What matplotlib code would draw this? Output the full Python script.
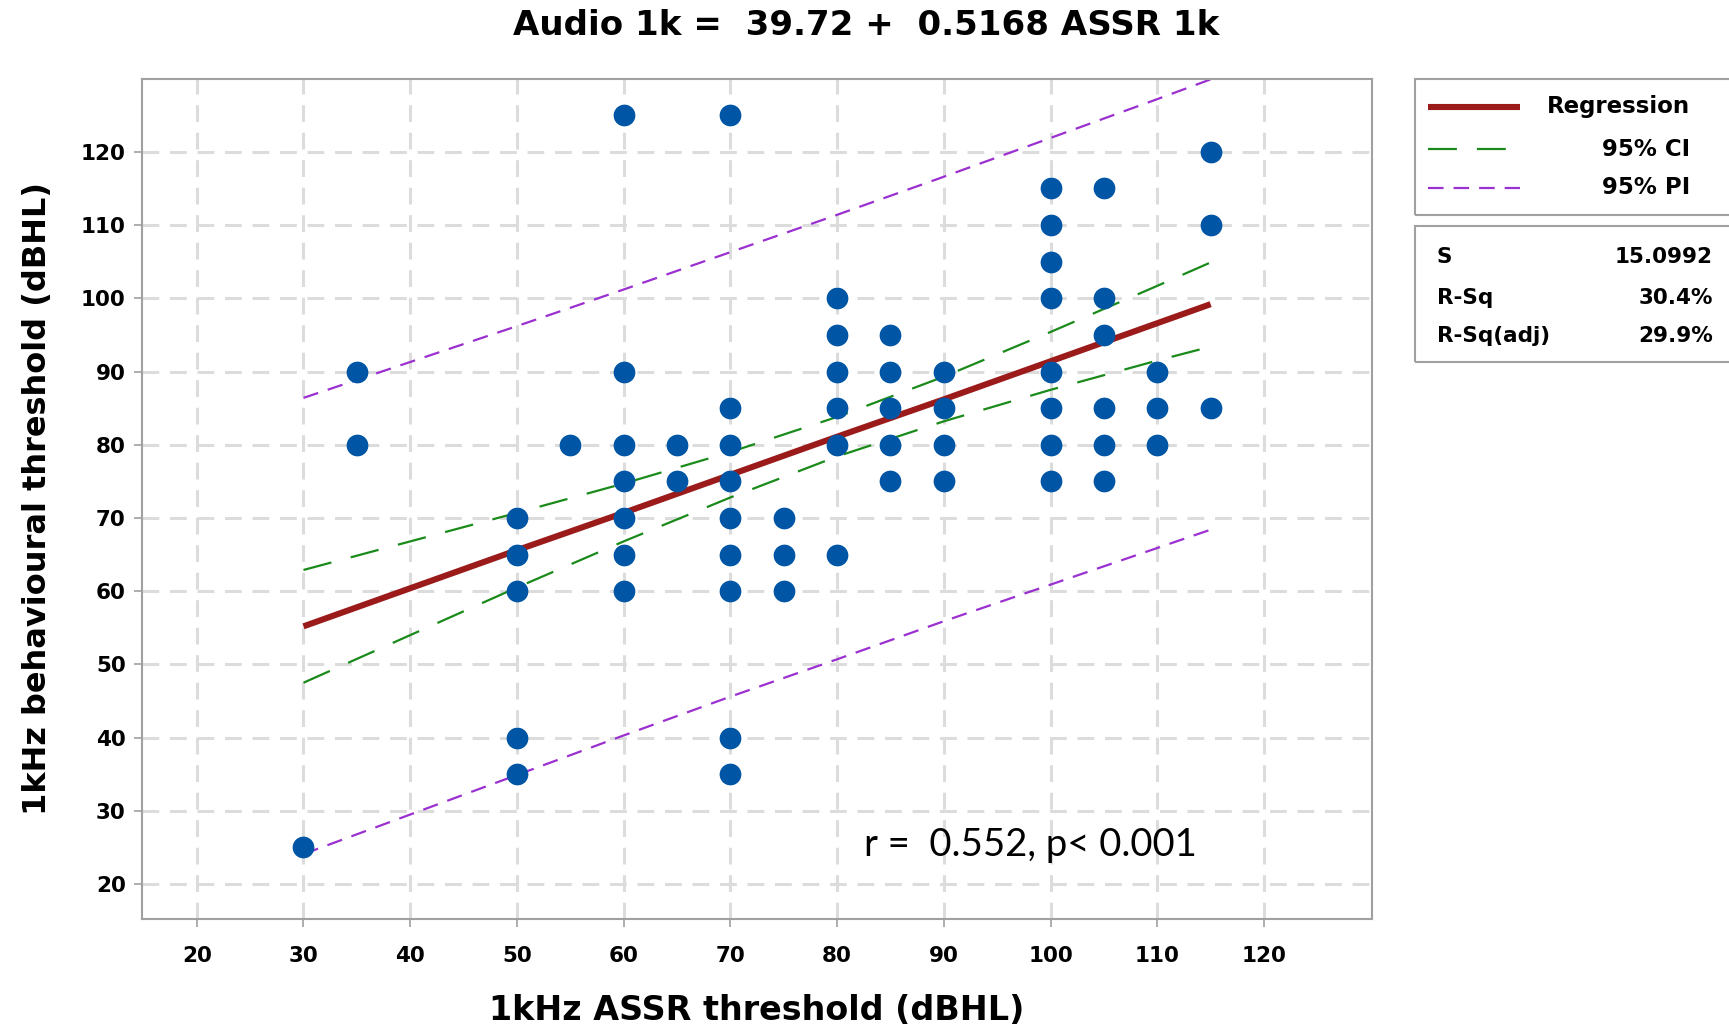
import matplotlib
matplotlib.use("Agg")
import matplotlib.pyplot as plt
from matplotlib.lines import Line2D
from matplotlib.patches import Rectangle

# ASSR threshold (x) and behavioural threshold (y)
assr = [30,
        35, 35,
        50, 50, 50, 50, 50,
        55,
        60, 60, 60, 60, 60, 60, 60,
        65, 65,
        70, 70, 70, 70, 70, 70, 70, 70, 70,
        75, 75, 75,
        80, 80, 80, 80, 80, 80,
        85, 85, 85, 85, 85,
        90, 90, 90, 90,
        100, 100, 100, 100, 100, 100, 100, 100,
        105, 105, 105, 105, 105, 105,
        110, 110, 110,
        115, 115, 115]
behav = [25,
         90, 80,
         70, 65, 60, 40, 35,
         80,
         125, 90, 80, 75, 70, 65, 60,
         80, 75,
         125, 85, 80, 75, 70, 65, 60, 40, 35,
         70, 65, 60,
         100, 95, 90, 85, 80, 65,
         95, 90, 85, 80, 75,
         90, 85, 80, 75,
         115, 110, 105, 100, 90, 85, 80, 75,
         115, 100, 95, 85, 80, 75,
         90, 85, 80,
         120, 110, 85]

# fitted line and interval bands, read at these x positions
fit_x = [30, 40, 50, 60, 70, 80, 90, 100, 110, 115]
fit_y = [55.2, 60.4, 65.6, 70.7, 75.9, 81.1, 86.2, 91.4, 96.6, 99.2]
ci_hi = [62.9, 66.8, 70.7, 74.7, 79.0, 83.8, 89.3, 95.4, 101.7, 104.9]
ci_lo = [47.5, 54.0, 60.5, 66.8, 72.8, 78.4, 83.2, 87.5, 91.5, 93.4]
pi_hi = [86.4, 91.3, 96.2, 101.2, 106.3, 111.4, 116.6, 121.9, 127.2, 129.9]
pi_lo = [24.1, 29.5, 34.9, 40.3, 45.6, 50.7, 55.9, 60.9, 65.9, 68.4]

stat_names = ["S", "R-Sq", "R-Sq(adj)"]
stat_vals = ["15.0992", "30.4%", "29.9%"]

RED = "#9b1b1b"
GREEN = "#1a8a1a"
PURPLE = "#9b30d0"
BLUE = "#0055a5"
GREY = "#a0a0a0"

fig = plt.figure(figsize=(17.29, 10.28), dpi=100)
ax = fig.add_axes([0.0823, 0.1065, 0.7111, 0.8163])

ax.set_xlim(14.9, 130.1)
ax.set_ylim(15.3, 129.9)
ax.set_xticks(range(20, 121, 10))
ax.set_yticks(range(20, 121, 10))
ax.grid(True, color="#dcdcdc", linewidth=2.2, linestyle=(0, (5.5, 3.5)))
ax.set_axisbelow(True)

for s in ax.spines.values():
    s.set_color(GREY)
    s.set_linewidth(1.5)
ax.tick_params(axis="both", color=GREY, width=1.2, length=6, labelsize=15.5)
ax.tick_params(axis="x", pad=14)
ax.tick_params(axis="y", pad=6)
for lab in ax.get_xticklabels() + ax.get_yticklabels():
    lab.set_fontweight("bold")

ax.plot(fit_x, pi_hi, color=PURPLE, lw=1.6, dashes=(7, 4.5))
ax.plot(fit_x, pi_lo, color=PURPLE, lw=1.6, dashes=(7, 4.5))
ax.plot(fit_x, ci_hi, color=GREEN, lw=1.6, dashes=(13, 9))
ax.plot(fit_x, ci_lo, color=GREEN, lw=1.6, dashes=(13, 9))
ax.plot(fit_x, fit_y, color=RED, lw=4.4, solid_capstyle="butt")
ax.scatter(assr, behav, s=245, color=BLUE, zorder=5, linewidths=0)

ax.text(82.5, 25.4, "r =  0.552, p< 0.001", fontsize=27.5, family="Lato",
        ha="left", va="center")

ax.set_xlabel("1kHz ASSR threshold (dBHL)", fontsize=24, fontweight="bold",
              labelpad=20)
ax.set_ylabel("1kHz behavioural threshold (dBHL)", fontsize=23,
              fontweight="bold", labelpad=20)
fig.text(0.501, 0.975, "Audio 1k =  39.72 +  0.5168 ASSR 1k", fontsize=24.5,
         fontweight="bold", ha="center", va="center")

# legend box
fig.add_artist(Rectangle((0.8184, 0.7909), 0.2, 0.1319, transform=fig.transFigure,
                         fill=False, edgecolor=GREY, lw=1.5))
rows = [0.896, 0.855, 0.8176]
styles = [dict(color=RED, lw=4.4, solid_capstyle="butt"),
          dict(color=GREEN, lw=1.6, dashes=(13, 9)),
          dict(color=PURPLE, lw=1.6, dashes=(7, 4.5))]
names = ["Regression", "95% CI", "95% PI"]
for yy, st, nm in zip(rows, styles, names):
    fig.add_artist(Line2D([0.826, 0.879], [yy, yy], transform=fig.transFigure, **st))
    fig.text(0.9776, yy, nm, fontsize=16.5, fontweight="bold", ha="right", va="center")

# stats box
fig.add_artist(Rectangle((0.8184, 0.6481), 0.2, 0.1319, transform=fig.transFigure,
                         fill=False, edgecolor=GREY, lw=1.5))
for yy, nm, v in zip([0.750, 0.710, 0.673], stat_names, stat_vals):
    fig.text(0.831, yy, nm, fontsize=15.5, fontweight="bold", ha="left", va="center")
    fig.text(0.9905, yy, v, fontsize=15.5, fontweight="bold", ha="right", va="center")

fig.savefig("out.png", dpi=100)
